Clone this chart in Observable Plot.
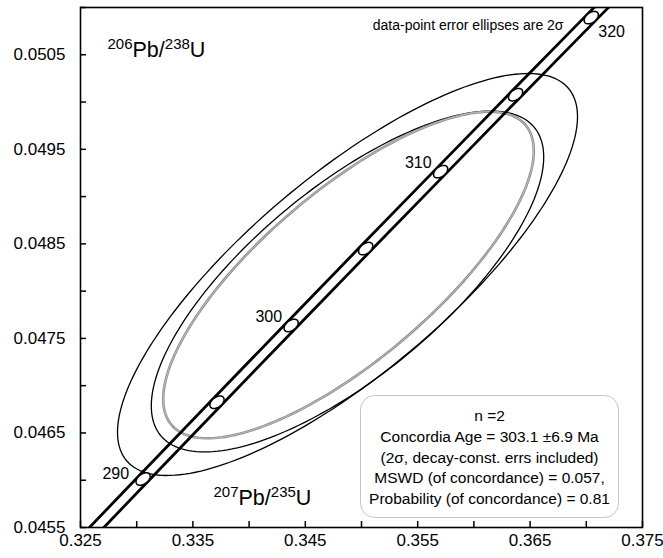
<!DOCTYPE html>
<html>
<head>
<meta charset="utf-8">
<script src="https://cdn.jsdelivr.net/npm/d3@7"></script>
<script src="https://cdn.jsdelivr.net/npm/@observablehq/plot@0.6"></script>
<style>
  html, body { margin: 0; padding: 0; background: white; }
  #chart { width: 663px; height: 558px; }
</style>
</head>
<body>
<div id="chart"></div>
<script>
// ---- Concordia (ages in Ma) ----
const concAges = [280, 285, 290, 295, 300, 305, 310, 315, 320, 325];
const concX = [0.31753, 0.32403, 0.33057, 0.33714, 0.34374, 0.35037, 0.35704, 0.36371, 0.37044, 0.37723];
const concY = [0.044392, 0.045202, 0.046013, 0.046825, 0.047637, 0.048450, 0.049264, 0.050078, 0.050893, 0.051708];
// decay-constant error envelope (207Pb/235U at the same ages)
const envLeftX  = [0.31689, 0.32339, 0.32993, 0.33650, 0.34310, 0.34973, 0.35640, 0.36307, 0.36980, 0.37659];
const envRightX = [0.31817, 0.32467, 0.33121, 0.33778, 0.34438, 0.35101, 0.35768, 0.36435, 0.37108, 0.37787];

// age markers and their 2σ decay-constant error ellipses
const markerAges = [290, 295, 300, 305, 310, 315, 320];
const markerErrX = 0.00063;
const markerErrY = 0.000066;
const markerRho = 0.45;

// ---- Error ellipses (2σ) ----
const ellipseNames = ["spot 1", "spot 2", "concordia age"];
const ellipseX   = [0.348755, 0.348755, 0.348844];
const ellipseY   = [0.048176, 0.048102, 0.048171];
const ellipseErrX = [0.020463, 0.017456, 0.016486];
const ellipseErrY = [0.002126, 0.001803, 0.001727];
const ellipseRho = [0.785, 0.73, 0.76];

// ---- Axis ticks ----
const xTicks = [0.325, 0.330, 0.335, 0.340, 0.345, 0.350, 0.355, 0.360, 0.365, 0.370, 0.375];
const xLabels = [0.325, 0.335, 0.345, 0.355, 0.365, 0.375];
const yTicks = [0.0455, 0.0460, 0.0465, 0.0470, 0.0475, 0.0480, 0.0485, 0.0490, 0.0495, 0.0500, 0.0505, 0.0510];
const yLabels = [0.0455, 0.0465, 0.0475, 0.0485, 0.0495, 0.0505];

// ---- Texts ----
const yTitle = "{206}Pb/{238}U";
const xTitle = "{207}Pb/{235}U";
const noteText = "data-point error ellipses are 2σ";
const statsLines = [
  "n =2",
  "Concordia Age = 303.1 ±6.9 Ma",
  "(2σ, decay-const. errs included)",
  "MSWD (of concordance) = 0.057,",
  "Probability (of concordance) = 0.81"
];

// ---- Build outlines ----
function outline(cx, cy, sx, sy, r, id, n = 200) {
  const pts = [];
  const s = Math.sqrt(1 - r * r);
  for (let k = 0; k < n; k++) {
    const t = 2 * Math.PI * k / n;
    pts.push({id, x: cx + sx * Math.cos(t), y: cy + sy * (r * Math.cos(t) + s * Math.sin(t))});
  }
  return pts;
}
const dataEllipses = [];
for (let i = 0; i < 2; i++) dataEllipses.push(...outline(ellipseX[i], ellipseY[i], ellipseErrX[i], ellipseErrY[i], ellipseRho[i], ellipseNames[i]));
const ageEllipse = outline(ellipseX[2], ellipseY[2], ellipseErrX[2], ellipseErrY[2], ellipseRho[2], ellipseNames[2]);

const markerPts = [];
markerAges.forEach(a => {
  const i = concAges.indexOf(a);
  markerPts.push(...outline(concX[i], concY[i], markerErrX, markerErrY, markerRho, a, 60));
});
const conc = concAges.map((a, i) => ({age: a, x: concX[i], y: concY[i], xl: envLeftX[i], xr: envRightX[i]}));
const labelAt = a => conc.filter(d => d.age === a);

const fam = "'Liberation Sans', Arial, Helvetica, sans-serif";

const plot = Plot.plot({
  width: 663,
  height: 558,
  marginLeft: 80,
  marginRight: 21,
  marginTop: 7,
  marginBottom: 31,
  x: {domain: [0.325, 0.375]},
  y: {domain: [0.0455, 0.051]},
  style: {fontFamily: fam, fontSize: "17px", background: "white", color: "black"},
  marks: [
    // stats box
    Plot.frame({insetLeft: 280, insetRight: 24, insetTop: 388, insetBottom: 10, rx: 14, ry: 14, stroke: "#c4c4c4", strokeWidth: 1, fill: "white"}),
    // ellipses
    Plot.line(dataEllipses, {x: "x", y: "y", z: "id", curve: "linear-closed", stroke: "black", strokeWidth: 1.3, clip: true}),
    Plot.line(ageEllipse, {x: "x", y: "y", z: "id", curve: "linear-closed", stroke: "#8c8c8c", strokeWidth: 2.6, clip: true}),
    Plot.line(ageEllipse, {x: "x", y: "y", z: "id", curve: "linear-closed", stroke: "#d6d6d6", strokeWidth: 0.7, clip: true}),
    // concordia envelope
    Plot.line(conc, {x: "xl", y: "y", stroke: "black", strokeWidth: 2.8, clip: true}),
    Plot.line(conc, {x: "xr", y: "y", stroke: "black", strokeWidth: 2.8, clip: true}),
    // age markers
    Plot.line(markerPts, {x: "x", y: "y", z: "id", curve: "linear-closed", stroke: "black", strokeWidth: 1.5, fill: "white", clip: true}),
    // age labels
    Plot.text(labelAt(290), {x: "x", y: "y", text: d => String(d.age), textAnchor: "end", dx: -14, dy: -5, fontSize: 16}),
    Plot.text(labelAt(300), {x: "x", y: "y", text: d => String(d.age), textAnchor: "end", dx: -9, dy: -9, fontSize: 16}),
    Plot.text(labelAt(310), {x: "x", y: "y", text: d => String(d.age), textAnchor: "end", dx: -9, dy: -9, fontSize: 16}),
    Plot.text(labelAt(320), {x: "x", y: "y", text: d => String(d.age), textAnchor: "start", dx: 7, dy: 14, fontSize: 16}),
    // tick labels
    Plot.axisX(xLabels, {anchor: "bottom", tickSize: 0, tickPadding: 6, tickFormat: d3.format(".3f"), label: null, fontSize: 17}),
    Plot.axisY(yLabels, {anchor: "left", tickSize: 0, tickPadding: 15, tickFormat: d3.format(".4f"), label: null, fontSize: 17}),
    // titles & notes
    Plot.text([yTitle], {frameAnchor: "top-left", textAnchor: "start", dx: 27, dy: 34, fontSize: 21.5}),
    Plot.text([xTitle], {frameAnchor: "bottom-left", textAnchor: "start", dx: 133, dy: -23, fontSize: 21.5}),
    Plot.text([noteText], {frameAnchor: "top-right", textAnchor: "end", dx: -79, dy: 12.5, fontSize: 14}),
    Plot.text([statsLines.join("\n")], {frameAnchor: "middle", textAnchor: "middle", lineAnchor: "middle", dx: 128, dy: 188.5, fontSize: 15.5, lineHeight: 1.34}),
    Plot.frame({stroke: "black", strokeWidth: 1.6}),
    // inward ticks
    Plot.tickX(xTicks, {x: d => d, insetTop: 514, stroke: "black", strokeWidth: 1.5}),
    Plot.tickY(yTicks, {y: d => d, insetRight: 556, stroke: "black", strokeWidth: 1.5})
  ]
});

// superscripts for the isotope ratio titles
const NS = "http://www.w3.org/2000/svg";
plot.querySelectorAll("text").forEach(t => {
  if (t.querySelector("tspan")) return;
  const s = t.textContent;
  if (!/\{\d+\}/.test(s)) return;
  const parts = s.split(/(\{\d+\})/).filter(p => p);
  t.textContent = "";
  let raised = false;
  parts.forEach(p => {
    const ts = document.createElementNS(NS, "tspan");
    if (p[0] === "{") {
      ts.textContent = p.slice(1, -1);
      ts.setAttribute("font-size", "15");
      if (!raised) { ts.setAttribute("dy", "-7.5"); raised = true; }
    } else {
      ts.textContent = p;
      if (raised) { ts.setAttribute("dy", "7.5"); raised = false; }
    }
    t.appendChild(ts);
  });
});

document.getElementById("chart").appendChild(plot);
</script>
</body>
</html>
